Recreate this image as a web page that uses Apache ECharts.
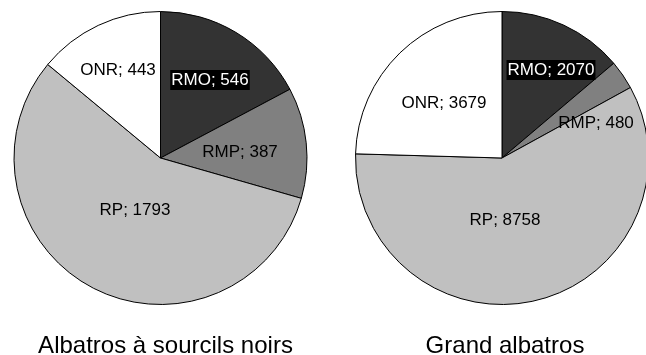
<!DOCTYPE html>
<html>
<head>
<meta charset="utf-8">
<script src="https://cdn.jsdelivr.net/npm/echarts@6/dist/echarts.min.js"></script>
<style>
html,body{margin:0;padding:0;background:#fff;}
#chart{width:646px;height:355px;}
</style>
</head>
<body>
<div id="chart"></div>
<script>
// ---- data ----
var categories = ['RMO', 'RMP', 'RP', 'ONR'];
var blackBrowedValues = [546, 387, 1793, 443];
var greatAlbatrossValues = [2070, 480, 8758, 3679];
var chartTitles = ['Albatros à sourcils noirs', 'Grand albatros'];

// ---- styling / layout ----
var sliceColors = ['#333333', '#808080', '#c0c0c0', '#ffffff'];
var FONT = '"Liberation Sans", Arial, sans-serif';
var pieCenters = [[160.5, 158], [502, 158]];
var pieRadius = 146.5;
// label centre positions (pixel) per pie, per category
var labelPositions = [
  [[210, 80], [240, 152], [135, 210], [118, 70]],
  [[551, 70], [596, 123], [505, 220], [444, 103]]
];

function makeSeries(idx, values) {
  return {
    type: 'pie',
    center: pieCenters[idx],
    radius: pieRadius,
    startAngle: 90,
    clockwise: true,
    silent: true,
    animation: false,
    avoidLabelOverlap: false,
    itemStyle: { borderColor: '#000', borderWidth: 1 },
    label: {
      show: true,
      position: 'inside',
      formatter: '{b}; {c}',
      fontFamily: FONT,
      fontSize: 17,
      color: '#000',
      align: 'center',
      verticalAlign: 'middle'
    },
    labelLine: { show: false },
    labelLayout: function (p) {
      var pos = labelPositions[idx][p.dataIndex];
      return { x: pos[0], y: pos[1], align: 'center', verticalAlign: 'middle' };
    },
    data: categories.map(function (c, i) {
      var d = { name: c, value: values[i], itemStyle: { color: sliceColors[i] } };
      if (i === 0) {
        d.label = { color: '#fff', backgroundColor: '#000', padding: [2, 1, 1, 1] };
      }
      return d;
    })
  };
}

var chart = echarts.init(document.getElementById('chart'), null, { renderer: 'canvas' });
chart.setOption({
  animation: false,
  backgroundColor: '#fff',
  title: [
    { text: chartTitles[0], left: 160.5, top: 329, textAlign: 'center',
      textStyle: { fontFamily: FONT, fontSize: 24, fontWeight: 'normal', color: '#000' } },
    { text: chartTitles[1], left: 500, top: 329, textAlign: 'center',
      textStyle: { fontFamily: FONT, fontSize: 24, fontWeight: 'normal', color: '#000' } }
  ],
  series: [makeSeries(0, blackBrowedValues), makeSeries(1, greatAlbatrossValues)]
});
</script>
</body>
</html>
